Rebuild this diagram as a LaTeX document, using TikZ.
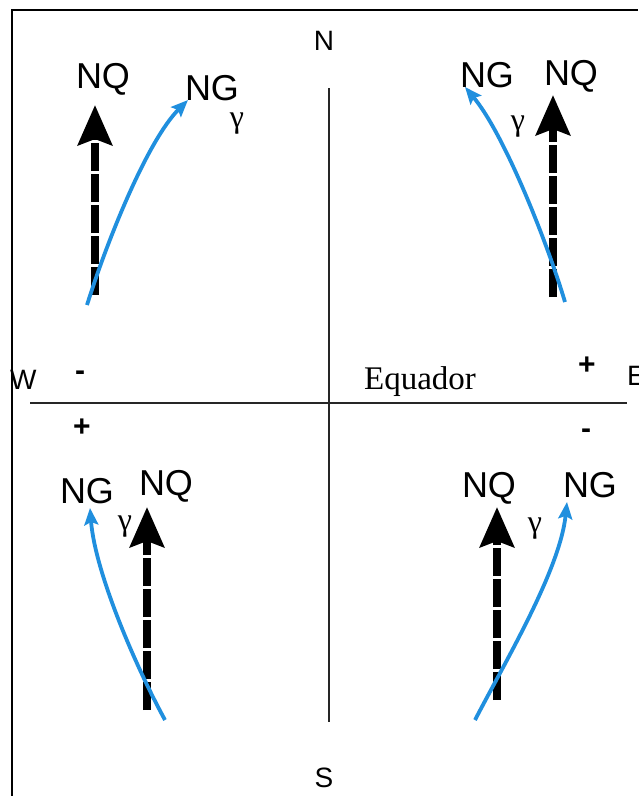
\documentclass[tikz,border=0pt]{standalone}
\usepackage{fontspec}
\setmainfont{Liberation Serif}
\setsansfont{Liberation Sans}
\usetikzlibrary{arrows.meta, positioning}
\definecolor{gridblue}{RGB}{32, 143, 222}

\begin{document}
\begin{tikzpicture}[
    x=1pt, y=-1pt,
    every node/.style={inner sep=0pt},
    north/.style={font=\sffamily\fontsize{36}{40}\selectfont, anchor=base},
    pole/.style={font=\sffamily\fontsize{28}{32}\selectfont},
    sgn/.style={font=\sffamily\bfseries\fontsize{30}{32}\selectfont},
    ang/.style={font=\fontsize{32}{34}\selectfont},
    nqarrow/.style={line width=8pt, dash pattern=on 28pt off 3pt, -{Stealth[length=40pt, width=34pt, inset=6pt]}},
    ngarrow/.style={gridblue, line width=3.8pt, -{Stealth[length=17pt, width=14pt, inset=3pt]}},
    axis/.style={line width=1.2pt, black!85}
]
\useasboundingbox (0,0) rectangle (638,796);

% Frame
\draw[line width=2pt] (12,796) -- (12,10) -- (638,10);

% Axes
\coordinate (ntop) at (329,88);
\coordinate (sbot) at (329,722);
\coordinate (wend) at (30,403);
\coordinate (eend) at (627,403);
\draw[axis] (ntop) -- (sbot);
\draw[axis] (wend) -- (eend);

\node[pole, anchor=base] (nlbl) at (324,50) {N};
\node[pole, anchor=base] (slbl) at (324,787) {S};
\node[pole, anchor=base west] (wlbl) at (10,389) {W};
\node[pole, anchor=base west] (elbl) at (627,385) {E};
\node[anchor=base, font=\fontsize{33}{36}\selectfont] (equador) at (420,389) {Equador};

% Signs
\node[sgn] (minusW) at (80,376) {-};
\node[sgn] (plusW) at (82,428) {+};
\node[sgn] (plusE) at (587,366) {+};
\node[sgn] (minusE) at (586,434) {-};

% Upper left
\coordinate (nqAfoot) at (95,295);
\coordinate (nqAtip) at (95,105);
\coordinate (ngAfoot) at (87,305);
\coordinate (ngAtip) at (188,100);
\draw[nqarrow] (nqAfoot) -- (nqAtip);
\draw[ngarrow] (ngAfoot) .. controls (108,238) and (148,140) .. (ngAtip);
\node[north] (nqA) at (103,88) {NQ};
\node[north] (ngA) at (212,100) {NG};
\node[ang] (gA) at (237,124) {γ};

% Upper right
\coordinate (nqBfoot) at (553,297);
\coordinate (nqBtip) at (553,95);
\coordinate (ngBfoot) at (565,302);
\coordinate (ngBtip) at (465,87);
\draw[nqarrow] (nqBfoot) -- (nqBtip);
\draw[ngarrow] (ngBfoot) .. controls (548,245) and (505,135) .. (ngBtip);
\node[north] (ngB) at (487,87) {NG};
\node[north] (nqB) at (571,85) {NQ};
\node[ang] (gB) at (518,127) {γ};

% Lower left
\coordinate (nqCfoot) at (147,710);
\coordinate (nqCtip) at (147,507);
\coordinate (ngCfoot) at (165,720);
\coordinate (ngCtip) at (90,508);
\draw[nqarrow] (nqCfoot) -- (nqCtip);
\draw[ngarrow] (ngCfoot) .. controls (135,665) and (95,572) .. (ngCtip);
\node[north] (ngC) at (87,503) {NG};
\node[north] (nqC) at (166,495) {NQ};
\node[ang] (gC) at (125,527) {γ};

% Lower right
\coordinate (nqDfoot) at (497,700);
\coordinate (nqDtip) at (497,507);
\coordinate (ngDfoot) at (475,720);
\coordinate (ngDtip) at (567,502);
\draw[nqarrow] (nqDfoot) -- (nqDtip);
\draw[ngarrow] (ngDfoot) .. controls (505,662) and (560,570) .. (ngDtip);
\node[north] (nqD) at (489,497) {NQ};
\node[north] (ngD) at (590,497) {NG};
\node[ang] (gD) at (535,529) {γ};

\end{tikzpicture}
\end{document}
